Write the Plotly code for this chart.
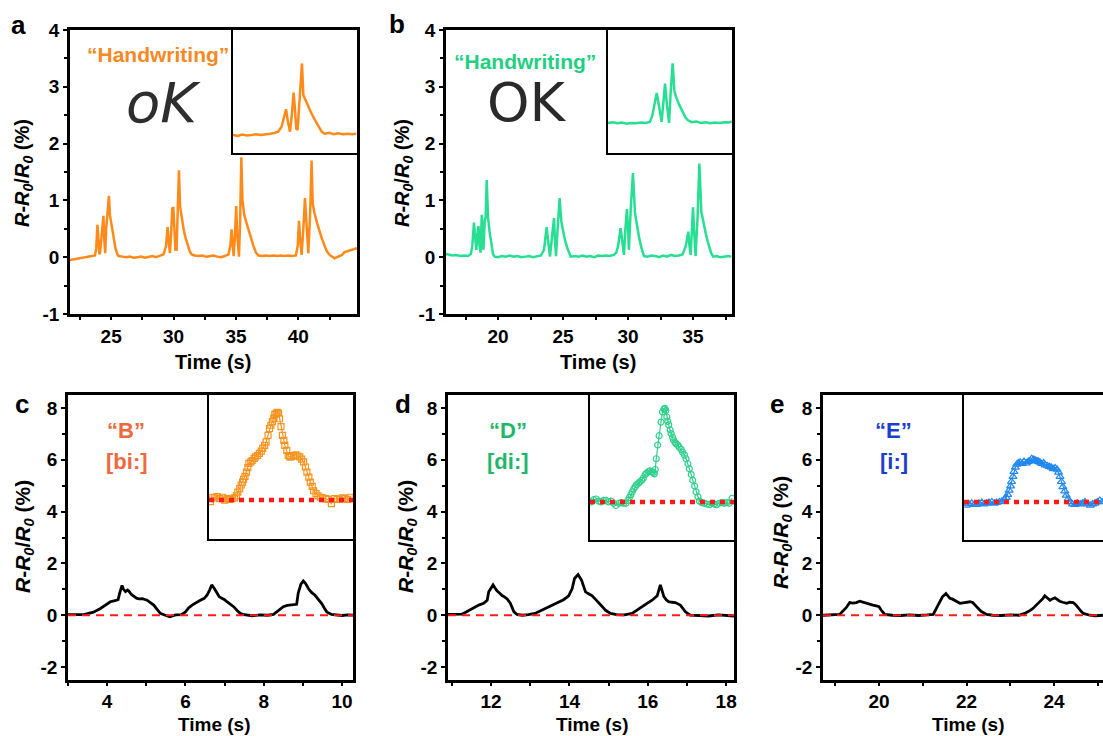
import plotly.graph_objects as go

# ---------------- data ----------------
# (a) handwriting "oK" - four writing events
time_a = [21.7, 22.0, 22.3, 22.6, 22.9, 23.2, 23.5, 23.7, 23.8, 23.9, 23.97, 24.05, 24.12, 24.25, 24.38,
          24.45, 24.52, 24.6, 24.7, 24.82, 24.9, 25.0, 25.1, 25.2, 25.35, 25.5, 25.6, 25.9, 26.2, 26.5,
          26.8, 27.1, 27.4, 27.7, 28.0, 28.3, 28.6, 28.9, 29.2, 29.4, 29.52, 29.6, 29.71, 29.8, 29.9,
          29.98, 30.05, 30.15, 30.24, 30.32, 30.43, 30.52, 30.64, 30.8, 30.95, 31.1, 31.3, 31.45, 31.7,
          32.0, 32.3, 32.6, 32.9, 33.2, 33.5, 33.8, 34.1, 34.4, 34.55, 34.65, 34.73, 34.81, 34.9, 35.02,
          35.1, 35.24, 35.33, 35.43, 35.52, 35.67, 35.85, 36.0, 36.2, 36.4, 36.6, 36.8, 37.1, 37.4, 37.7,
          38.0, 38.3, 38.6, 38.9, 39.2, 39.5, 39.8, 39.95, 40.05, 40.15, 40.26, 40.4, 40.53, 40.65, 40.8,
          40.95, 41.06, 41.15, 41.28, 41.5, 41.7, 41.9, 42.1, 42.3, 42.5, 42.67, 42.9, 43.1, 43.3, 43.5,
          43.7, 43.9, 44.1, 44.3, 44.55, 44.7]
resp_a = [-0.05, -0.04, -0.03, -0.02, -0.01, 0.0, 0.01, 0.03, 0.15, 0.57, 0.35, 0.05, 0.1, 0.45, 0.73,
          0.3, 0.07, 0.5, 0.75, 1.08, 0.74, 0.6, 0.45, 0.3, 0.15, 0.05, 0.02, 0.01, 0.0, 0.01,
          -0.01, 0.0, 0.01, -0.01, 0.0, 0.02, 0.0, 0.03, 0.05, 0.2, 0.53, 0.3, 0.07, 0.4, 0.86,
          0.88, 0.5, 0.13, 0.13, 0.7, 1.53, 0.9, 0.71, 0.5, 0.35, 0.22, 0.1, 0.05, 0.03,
          0.02, 0.03, 0.01, 0.02, 0.03, 0.01, 0.0, 0.02, 0.05, 0.2, 0.49, 0.25, 0.02, 0.3, 0.9,
          0.4, 0.01, 0.6, 1.76, 1.0, 0.74, 0.6, 0.48, 0.33, 0.2, 0.08, 0.03, 0.02, 0.03, 0.02,
          0.03, 0.02, 0.03, 0.02, 0.03, 0.02, 0.03, 0.2, 0.64, 0.3, 0.04, 0.5, 1.04, 0.6, 0.07,
          0.8, 1.70, 0.95, 0.79, 0.6, 0.45, 0.32, 0.2, 0.1, 0.04, 0.01, -0.02, 0.0, 0.02, 0.04,
          0.09, 0.1, 0.12, 0.13, 0.15, 0.16]

# (a) inset: a single event
time_ia = [0.0, 0.3, 0.6, 0.9, 1.2, 1.5, 1.8, 2.1, 2.4, 2.7, 2.92, 3.14, 3.3, 3.42, 3.55, 3.68, 3.8, 3.91,
           4.0, 4.08, 4.17, 4.3, 4.45, 4.54, 4.7, 4.86, 5.05, 5.29, 5.5, 5.72, 5.9, 6.2, 6.5, 6.8, 7.1,
           7.4, 7.7, 7.95]
resp_ia = [0.0, -0.02, 0.01, -0.01, 0.0, 0.02, 0.0, 0.01, 0.03, 0.05, 0.08, 0.2, 0.45, 0.61, 0.3, 0.08, 0.5,
           1.0, 0.6, 0.15, 0.12, 0.9, 1.69, 0.94, 0.8, 0.67, 0.52, 0.35, 0.2, 0.08, 0.03, 0.05, 0.02, 0.04,
           0.02, 0.03, 0.02, 0.03]

# (b) handwriting "OK"
time_b = [15.9, 16.2, 16.5, 16.8, 17.1, 17.4, 17.7, 17.9, 18.02, 18.15, 18.24, 18.33, 18.42, 18.5, 18.58,
          18.66, 18.75, 18.82, 18.88, 18.98, 19.05, 19.13, 19.23, 19.35, 19.5, 19.62, 19.75, 20.0, 20.3,
          20.6, 20.9, 21.2, 21.5, 21.8, 22.1, 22.4, 22.7, 23.0, 23.3, 23.54, 23.74, 23.85, 24.0, 24.15,
          24.31, 24.38, 24.46, 24.6, 24.74, 24.87, 25.0, 25.15, 25.35, 25.59, 25.9, 26.2, 26.5, 26.8,
          27.1, 27.4, 27.7, 28.0, 28.3, 28.6, 28.9, 29.1, 29.23, 29.43, 29.55, 29.69, 29.8, 29.92, 30.0,
          30.07, 30.2, 30.38, 30.54, 30.7, 30.85, 31.05, 31.23, 31.5, 31.8, 32.1, 32.4, 32.7, 33.0, 33.3,
          33.6, 33.9, 34.2, 34.44, 34.64, 34.73, 34.82, 34.92, 35.0, 35.1, 35.2, 35.35, 35.49, 35.64,
          35.8, 36.0, 36.2, 36.4, 36.56, 36.8, 37.1, 37.4, 37.7, 37.96]
resp_b = [0.06, 0.05, 0.03, 0.04, 0.02, 0.03, 0.02, 0.05, 0.19, 0.61, 0.35, 0.13, 0.4, 0.55, 0.2,
          0.08, 0.745, 0.35, 0.13, 0.65, 0.7, 1.36, 0.71, 0.45, 0.2, 0.05, 0.01, 0.0, 0.02,
          0.01, 0.03, 0.01, 0.02, 0.0, 0.01, 0.02, 0.0, 0.01, 0.03, 0.13, 0.53, 0.3, 0.01, 0.35,
          0.69, 0.3, 0.02, 0.55, 1.04, 0.63, 0.45, 0.3, 0.15, 0.01, 0.02, 0.01, 0.03, 0.01,
          0.02, 0.0, 0.03, 0.02, 0.03, 0.02, 0.04, 0.08, 0.19, 0.51, 0.3, 0.04, 0.5, 0.845, 0.5,
          0.13, 0.8, 1.48, 0.77, 0.55, 0.35, 0.15, 0.02, 0.01, 0.03, 0.02, 0.0, 0.03, 0.01, 0.04,
          0.02, 0.03, 0.05, 0.19, 0.45, 0.2, 0.04, 0.5, 0.88, 0.4, 0.02, 0.7, 1.65, 0.80,
          0.6, 0.4, 0.22, 0.07, 0.01, 0.02, 0.0, 0.01, 0.02, 0.01]

# (b) inset: a single event
time_ib = [0.0, 0.3, 0.6, 0.9, 1.2, 1.5, 1.8, 2.1, 2.4, 2.7, 2.86, 3.0, 3.14, 3.3, 3.46, 3.58, 3.68, 3.8,
           3.94, 4.05, 4.17, 4.28, 4.39, 4.6, 4.8, 5.0, 5.16, 5.4, 5.7, 6.0, 6.3, 6.6, 6.9, 7.2, 7.5,
           7.8, 7.98]
resp_ib = [0.0, 0.02, -0.01, 0.01, -0.02, 0.0, -0.01, 0.01, 0.0, 0.03, 0.2, 0.55, 0.83, 0.45, 0.03, 0.6,
           1.09, 0.5, 0.0, 0.9, 1.65, 0.9, 0.72, 0.5, 0.3, 0.15, 0.075, 0.02, 0.04, 0.0, 0.02, -0.01,
           0.01, 0.0, 0.02, 0.01, 0.04]

# (c) speaking "B" [bi:]
time_c = [3.0, 3.2, 3.4, 3.5, 3.65, 3.83, 3.95, 4.08, 4.2, 4.28, 4.32, 4.38, 4.42, 4.47, 4.52, 4.55, 4.62,
          4.68, 4.75, 4.81, 4.9, 5.02, 5.1, 5.19, 5.28, 5.36, 5.45, 5.6, 5.75, 5.9, 6.0, 6.08, 6.17,
          6.28, 6.38, 6.48, 6.55, 6.62, 6.67, 6.73, 6.8, 6.86, 6.93, 7.0, 7.06, 7.15, 7.23, 7.32, 7.4,
          7.5, 7.7, 7.9, 8.1, 8.25, 8.33, 8.42, 8.5, 8.6, 8.75, 8.84, 8.88, 8.95, 9.01, 9.07, 9.14,
          9.22, 9.31, 9.4, 9.48, 9.55, 9.61, 9.73, 9.85, 10.0, 10.15, 10.3]
resp_c = [0.02, 0.03, 0.02, 0.06, 0.12, 0.26, 0.4, 0.52, 0.56, 0.6, 0.85, 1.15, 1.0, 0.91, 0.97, 0.94, 0.8,
          0.72, 0.66, 0.63, 0.64, 0.58, 0.5, 0.39, 0.22, 0.07, 0.02, -0.06, 0.01, 0.02, 0.13, 0.28, 0.39,
          0.5, 0.58, 0.65, 0.77, 0.98, 1.17, 1.05, 0.84, 0.72, 0.65, 0.6, 0.52, 0.43, 0.33, 0.18, 0.07,
          0.02, -0.02, 0.01, 0.0, 0.03, 0.13, 0.25, 0.33, 0.38, 0.4, 0.42, 0.85, 1.2, 1.32, 1.22, 1.03,
          0.88, 0.77, 0.6, 0.45, 0.27, 0.13, 0.03, 0.02, -0.01, 0.01, 0.0]

# (c) inset: one "B" utterance
time_ic = [0.03, 0.08, 0.12, 0.17, 0.22, 0.28, 0.33, 0.38, 0.43, 0.48, 0.53, 0.57, 0.6, 0.64, 0.67, 0.7,
           0.72, 0.75, 0.78, 0.81, 0.83, 0.87, 0.9, 0.94, 0.97, 1.01, 1.05, 1.09, 1.12, 1.16, 1.19, 1.23,
           1.26, 1.29, 1.32, 1.35, 1.37, 1.4, 1.42, 1.45, 1.47, 1.5, 1.53, 1.56, 1.58, 1.62, 1.65, 1.68,
           1.71, 1.76, 1.81, 1.85, 1.89, 1.93, 1.97, 2.01, 2.04, 2.08, 2.11, 2.15, 2.18, 2.23, 2.27,
           2.32, 2.37, 2.43, 2.48, 2.55, 2.62, 2.67, 2.72, 2.78, 2.83, 2.89, 2.94]
resp_ic = [-0.02, 0.04, 0.03, 0.05, 0.02, 0.04, 0.0, 0.02, 0.01, 0.02, 0.03, 0.06, 0.11, 0.16, 0.21, 0.25,
           0.29, 0.33, 0.39, 0.45, 0.51, 0.53, 0.55, 0.58, 0.6, 0.62, 0.65, 0.68, 0.72, 0.76, 0.81, 0.9,
           0.995, 1.04, 1.09, 1.14, 1.19, 1.2, 1.22, 1.21, 1.13, 1.02, 0.9, 0.83, 0.76, 0.69, 0.62, 0.6,
           0.6, 0.62, 0.63, 0.61, 0.6, 0.57, 0.53, 0.46, 0.39, 0.32, 0.25, 0.19, 0.13, 0.09, 0.06,
           0.04, 0.03, 0.02, 0.01, -0.05, 0.02, 0.01, 0.01, 0.03, 0.02, 0.01, 0.04]

# (d) speaking "D" [di:]
time_d = [10.9, 11.1, 11.25, 11.34, 11.47, 11.6, 11.7, 11.81, 11.9, 11.94, 12.0, 12.05, 12.1, 12.15, 12.22,
          12.28, 12.35, 12.41, 12.49, 12.58, 12.66, 12.8, 12.95, 13.12, 13.25, 13.38, 13.55, 13.72,
          13.85, 13.98, 14.07, 14.13, 14.22, 14.31, 14.41, 14.5, 14.58, 14.66, 14.75, 14.84, 14.92,
          15.05, 15.2, 15.4, 15.6, 15.72, 15.85, 15.98, 16.11, 16.24, 16.32, 16.36, 16.41, 16.47, 16.53,
          16.62, 16.7, 16.83, 16.9, 16.96, 17.08, 17.3, 17.55, 17.8, 18.0, 18.2]
resp_d = [0.03, 0.02, 0.04, 0.11, 0.22, 0.33, 0.4, 0.46, 0.58, 0.91, 1.05, 1.17, 1.05, 0.94, 0.85,
          0.76, 0.7, 0.63, 0.46, 0.14, 0.03, 0.0, 0.02, 0.07, 0.16, 0.26, 0.36, 0.49,
          0.6, 0.75, 1.03, 1.42, 1.57, 1.35, 0.9, 0.82, 0.75, 0.62, 0.49, 0.33, 0.19,
          0.07, 0.02, 0.01, 0.07, 0.2, 0.33, 0.46, 0.58, 0.75, 1.17, 0.95, 0.72, 0.6, 0.52,
          0.5, 0.49, 0.39, 0.25, 0.13, 0.0, -0.02, -0.03, 0.01, -0.02, -0.03]

# (d) inset: one "D" utterance
time_id = [0.02, 0.08, 0.13, 0.18, 0.23, 0.28, 0.33, 0.38, 0.44, 0.49, 0.54, 0.6, 0.65, 0.7, 0.75, 0.79,
           0.82, 0.85, 0.88, 0.91, 0.94, 0.97, 1.01, 1.04, 1.08, 1.11, 1.15, 1.18, 1.22, 1.25, 1.29,
           1.32, 1.34, 1.36, 1.38, 1.41, 1.44, 1.48, 1.51, 1.54, 1.56, 1.58, 1.6, 1.62, 1.64, 1.67,
           1.69, 1.72, 1.74, 1.77, 1.79, 1.83, 1.86, 1.9, 1.93, 1.97, 2.0, 2.04, 2.07, 2.11, 2.14,
           2.18, 2.21, 2.25, 2.28, 2.33, 2.38, 2.44, 2.49, 2.54, 2.59, 2.64, 2.69, 2.75, 2.8, 2.85,
           2.9, 2.96]
resp_id = [0.0, 0.03, 0.04, 0.01, 0.0, 0.02, 0.02, 0.0, 0.01, -0.02, -0.05, -0.02, -0.01, -0.02, -0.02,
           0.02, 0.06, 0.1, 0.14, 0.18, 0.21, 0.24, 0.26, 0.28, 0.3, 0.33, 0.38, 0.4, 0.42, 0.43, 0.42,
           0.41, 0.39, 0.45, 0.6, 0.79, 0.92, 1.11, 1.25, 1.29, 1.3, 1.27, 1.18, 1.12, 1.07, 1.0,
           0.95, 0.9, 0.86, 0.83, 0.81, 0.79, 0.76, 0.73, 0.69, 0.65, 0.6, 0.53, 0.46, 0.38, 0.3,
           0.22, 0.14, 0.07, 0.01, -0.01, -0.02, -0.03, -0.04, -0.02, -0.03, -0.04, -0.02, -0.01, -0.02, -0.01,
           -0.02, 0.05]

# (e) speaking "E" [i:]
time_e = [18.72, 18.9, 19.1, 19.25, 19.33, 19.4, 19.48, 19.56, 19.63, 19.71, 19.8, 19.86, 19.94, 20.0,
          20.05, 20.13, 20.3, 20.5, 20.7, 20.9, 21.1, 21.24, 21.35, 21.45, 21.53, 21.58, 21.62, 21.68,
          21.73, 21.8, 21.85, 21.92, 22.0, 22.08, 22.14, 22.23, 22.34, 22.46, 22.6, 22.8, 23.0, 23.2,
          23.33, 23.42, 23.52, 23.6, 23.68, 23.75, 23.79, 23.85, 23.91, 23.97, 24.02, 24.08, 24.13,
          24.2, 24.29, 24.36, 24.44, 24.5, 24.56, 24.62, 24.67, 24.82, 24.95, 25.12]
resp_e = [0.0, 0.01, 0.03, 0.29, 0.49, 0.47, 0.49, 0.54, 0.5, 0.46, 0.42, 0.39, 0.36, 0.33,
          0.2, 0.03, 0.0, -0.01, 0.01, -0.01, 0.01, 0.03, 0.39, 0.71, 0.84, 0.74, 0.65, 0.62,
          0.58, 0.52, 0.46, 0.48, 0.49, 0.52, 0.49, 0.33, 0.14, 0.03, 0.0, -0.01, 0.01, 0.0,
          0.07, 0.15, 0.26, 0.4, 0.52, 0.65, 0.75, 0.65, 0.58, 0.64, 0.67, 0.6, 0.54,
          0.5, 0.46, 0.5, 0.49, 0.4, 0.26, 0.15, 0.07, 0.0, -0.02, 0.0]

# (e) inset: one "E" utterance
time_ie = [0.05, 0.1, 0.16, 0.21, 0.26, 0.31, 0.37, 0.42, 0.47, 0.52, 0.58, 0.63, 0.68, 0.74, 0.79, 0.84,
           0.88, 0.91, 0.94, 0.97, 0.99, 1.02, 1.04, 1.07, 1.1, 1.13, 1.17, 1.21, 1.25, 1.3, 1.34, 1.38,
           1.41, 1.45, 1.48, 1.52, 1.55, 1.58, 1.62, 1.66, 1.69, 1.74, 1.78, 1.82, 1.86, 1.9, 1.94,
           1.97, 2.0, 2.03, 2.06, 2.1, 2.13, 2.17, 2.21, 2.26, 2.31, 2.36, 2.42, 2.47, 2.52, 2.58,
           2.63, 2.68, 2.73, 2.78, 2.83, 2.88]
resp_ie = [-0.05, -0.03, -0.02, -0.04, -0.04, -0.02, -0.01, -0.03, -0.02, -0.01, 0.0, -0.02, -0.01, 0.0, 0.01,
           0.03, 0.06, 0.1, 0.16, 0.22, 0.28, 0.35, 0.42, 0.48, 0.52, 0.54, 0.55, 0.53, 0.56, 0.54, 0.56,
           0.57, 0.6, 0.59, 0.58, 0.57, 0.56, 0.55, 0.53, 0.54, 0.51, 0.5, 0.49, 0.48, 0.46, 0.47, 0.45,
           0.41, 0.35, 0.28, 0.21, 0.15, 0.09, 0.04, 0.0, -0.03, -0.04, -0.02, -0.03, -0.02, 0.0, -0.03,
           -0.05, -0.03, -0.02, 0.0, 0.02, 0.0]

# tick values / labels
xticks_a, xticks_b = [25, 30, 35, 40], [20, 25, 30, 35]
xticks_c, xticks_d, xticks_e = [4, 6, 8, 10], [12, 14, 16, 18], [20, 22, 24]
yticks_top = [-1, 0, 1, 2, 3, 4]
ylabels_top = ["-1", "0", "1", "2", "3", "4"]
yticks_bot = [-2, 0, 2, 4, 6, 8]
ylabels_bot = ["-2", "0", "2", "4", "6", "8"]

# ---------------- layout helpers ----------------
W, H = 1103, 736
FONT = "Liberation Sans, Arial, sans-serif"


def dx(left, right):
    return [left / W, min(right / W, 1.0)]


def dy(top, bottom):
    return [1 - bottom / H, 1 - top / H]


def px(x):
    return x / W


def py(y):
    return 1 - y / H


def bold(labels):
    return [f"<b>{s}</b>" for s in labels]


def main_x(dom, rng, ticks, minor, anchor, mirror=True, ticklen=3):
    return dict(domain=dom, range=rng, anchor=anchor, tickmode="array", tickvals=ticks,
                ticktext=bold([str(t) for t in ticks]), ticks="outside", ticklen=ticklen, tickwidth=2,
                tickcolor="black", showline=True, linecolor="black", linewidth=2.5, mirror=mirror,
                showgrid=False, zeroline=False, automargin=False,
                minor=dict(dtick=minor, tick0=0, ticks="outside", ticklen=3, tickwidth=2, tickcolor="black"),
                tickfont=dict(family=FONT, size=19, color="black"))


def main_y(dom, rng, ticks, labels, minor, anchor, mirror=True):
    return dict(domain=dom, range=rng, anchor=anchor, tickmode="array", tickvals=ticks,
                ticktext=bold(labels), ticks="outside", ticklen=4, tickwidth=2, tickcolor="black",
                showline=True, linecolor="black", linewidth=2.5, mirror=mirror, showgrid=False,
                zeroline=False, automargin=False,
                minor=dict(dtick=minor, tick0=0, ticks="outside", ticklen=3, tickwidth=2, tickcolor="black"),
                tickfont=dict(family=FONT, size=19, color="black"))


def inset_axis(dom, rng, anchor, mirror=True):
    return dict(domain=dom, range=rng, anchor=anchor, showline=True, linecolor="black", linewidth=2,
                mirror=mirror, showticklabels=False, ticks="", showgrid=False, zeroline=False,
                automargin=False)


fig = go.Figure()

ORANGE = "#FF8A1A"
GREEN = "#27DF92"
line_main = dict(width=2.5)

fig.add_trace(go.Scatter(x=time_a, y=resp_a, mode="lines", line=dict(color=ORANGE, **line_main),
                         xaxis="x", yaxis="y"))
fig.add_trace(go.Scatter(x=time_b, y=resp_b, mode="lines", line=dict(color=GREEN, **line_main),
                         xaxis="x2", yaxis="y2"))
fig.add_trace(go.Scatter(x=time_c, y=resp_c, mode="lines", line=dict(color="black", width=2.8),
                         xaxis="x3", yaxis="y3"))
fig.add_trace(go.Scatter(x=time_d, y=resp_d, mode="lines", line=dict(color="black", width=2.8),
                         xaxis="x4", yaxis="y4"))
fig.add_trace(go.Scatter(x=time_e, y=resp_e, mode="lines", line=dict(color="black", width=2.8),
                         xaxis="x5", yaxis="y5"))
fig.add_trace(go.Scatter(x=time_ia, y=resp_ia, mode="lines", line=dict(color=ORANGE, **line_main),
                         xaxis="x6", yaxis="y6"))
fig.add_trace(go.Scatter(x=time_ib, y=resp_ib, mode="lines", line=dict(color=GREEN, **line_main),
                         xaxis="x7", yaxis="y7"))
fig.add_trace(go.Scatter(x=time_ic, y=resp_ic, mode="lines+markers",
                         line=dict(color="#F7931E", width=1.2),
                         marker=dict(symbol="square-open", size=6, color="#F7931E", line=dict(width=1.2)),
                         xaxis="x8", yaxis="y8"))
fig.add_trace(go.Scatter(x=time_id, y=resp_id, mode="lines+markers",
                         line=dict(color="#2FCF8C", width=1.2),
                         marker=dict(symbol="circle-open", size=6, color="#2FCF8C", line=dict(width=1.2)),
                         xaxis="x9", yaxis="y9"))
fig.add_trace(go.Scatter(x=time_ie, y=resp_ie, mode="lines+markers",
                         line=dict(color="#2088F0", width=1.2),
                         marker=dict(symbol="triangle-up-open", size=7, color="#2088F0", line=dict(width=1.2)),
                         xaxis="x10", yaxis="y10"))

layout = dict(
    template="none",
    width=W, height=H, autosize=False, margin=dict(l=0, r=0, t=0, b=0, pad=0), showlegend=False,
    paper_bgcolor="white", plot_bgcolor="white", font=dict(family=FONT, color="black"),
    xaxis=main_x(dx(70, 357), [21.7, 44.7], xticks_a, 2.5, "y"),
    yaxis=main_y(dy(30, 314), [-1, 4], yticks_top, ylabels_top, 0.5, "x"),
    xaxis2=main_x(dx(446, 732), [16, 38], xticks_b, 2.5, "y2"),
    yaxis2=main_y(dy(30, 314), [-1, 4], yticks_top, ylabels_top, 0.5, "x2"),
    xaxis3=main_x(dx(68, 353), [3.0, 10.28], xticks_c, 1, "y3", ticklen=2),
    yaxis3=main_y(dy(395, 680), [-2.5, 8.5], yticks_bot, ylabels_bot, 1, "x3"),
    xaxis4=main_x(dx(448, 734), [10.9, 18.2], xticks_d, 1, "y4", ticklen=2),
    yaxis4=main_y(dy(395, 680), [-2.5, 8.5], yticks_bot, ylabels_bot, 1, "x4"),
    xaxis5=main_x(dx(823, W), [18.72, 25.12], xticks_e, 1, "y5", ticklen=2),
    yaxis5=main_y(dy(395, 680), [-2.5, 8.5], yticks_bot, ylabels_bot, 1, "x5", mirror=False),
    xaxis6=inset_axis(dx(233, 357), [0, 8], "y6"),
    yaxis6=inset_axis(dy(30, 153), [-0.425, 2.48], "x6"),
    xaxis7=inset_axis(dx(608, 732), [0, 8], "y7"),
    yaxis7=inset_axis(dy(30, 153), [-0.833, 2.575], "x7"),
    xaxis8=inset_axis(dx(209, 353), [0, 3], "y8"),
    yaxis8=inset_axis(dy(395, 539), [-0.54, 1.46], "x8"),
    xaxis9=inset_axis(dx(590, 734), [0, 3], "y9"),
    yaxis9=inset_axis(dy(395, 540), [-0.53, 1.486], "x9"),
    xaxis10=inset_axis(dx(964, W), [0, (W - 964) / 48], "y10"),
    yaxis10=inset_axis(dy(395, 540), [-0.53, 1.486], "x10", mirror=False),
)
fig.update_layout(**layout)

# zero reference lines: dashed in main panels, dotted in insets
for xa, ya in [("x3", "y3"), ("x4", "y4"), ("x5", "y5")]:
    fig.add_shape(type="line", xref=f"{xa} domain", yref=ya, x0=0, x1=1, y0=0, y1=0,
                  line=dict(color="#FF1A1A", width=2, dash="8px,6px"))
for xa, ya in [("x8", "y8"), ("x9", "y9"), ("x10", "y10")]:
    fig.add_shape(type="line", xref=f"{xa} domain", yref=ya, x0=0, x1=1, y0=0, y1=0,
                  line=dict(color="#FF1A1A", width=4.5, dash="5px,5px"))


def note(text, x, y, size, color="black", angle=0, weight="bold", family=FONT, style="normal"):
    fig.add_annotation(text=text, x=px(x), y=py(y), xref="paper", yref="paper", showarrow=False,
                       textangle=angle, xanchor="center", yanchor="middle",
                       font=dict(family=family, size=size, color=color, weight=weight, style=style))


# panel letters
for letter, x, y in [("a", 18, 25), ("b", 397, 24), ("c", 22, 404), ("d", 403, 404), ("e", 777, 404)]:
    note(letter, x, y, 26)

# axis titles
ytitle = "<i>R</i>-<i>R<sub>0</sub></i>/<i>R<sub>0</sub></i> (%)"
for x, y, s in [(213, 362, 20), (598, 362, 20), (214, 724, 19), (592, 724, 19), (968, 724, 19)]:
    note("Time (s)", x, y, s)
for x, y, s in [(24, 173, 20), (404, 173, 20), (24, 537, 21), (407, 537, 21), (782, 533, 21)]:
    note(ytitle, x, y, s, angle=-90)

# handwriting panels
note("\u201cHandwriting\u201d", 158, 55, 21, color="#F7891F")
note("\u201cHandwriting\u201d", 525, 62, 21, color="#22CF82")
note("oK", 163, 102, 56, color="#2E2E2E", weight="normal", family="DejaVu Sans", style="italic")
note("OK", 527, 102, 54, color="#2A2A2A", weight="normal", family="DejaVu Sans")

# speech panels
note("\u201cB\u201d", 126, 430, 22, color="#EE6A3C")
note("[bi:]", 127, 462, 22, color="#EE6A3C")
note("\u201cD\u201d", 508, 430, 22, color="#1FB86A")
note("[di:]", 508, 462, 22, color="#1FB86A")
note("\u201cE\u201d", 893, 430, 22, color="#1B3FCC")
note("[i:]", 894, 462, 22, color="#1B3FCC")

fig.write_html("out.html")
